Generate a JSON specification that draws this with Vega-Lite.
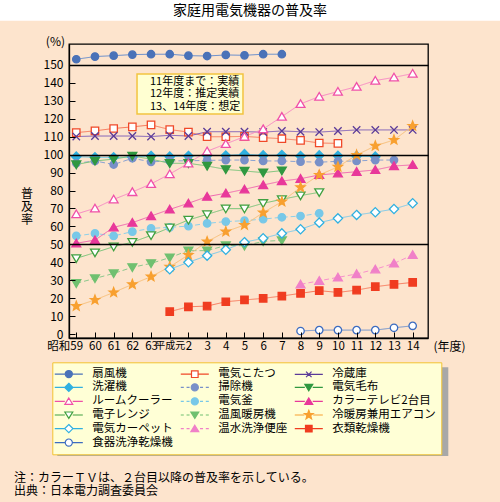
{
"$schema": "https://vega.github.io/schema/vega-lite/v6.json",
"width": 359, "height": 294,
"autosize": {"type": "none"},
"padding": {"left": 69, "top": 44, "right": 72, "bottom": 164},
"background": "#FDE4CD",
"view": {"stroke": "#000000", "strokeWidth": 1.3},
"config": {
  "font": "Noto Sans CJK JP",
  "view": {"stroke": "#000000", "strokeWidth": 1.3},
  "axis": {"labelFont": "Noto Sans CJK JP", "titleFont": "Noto Sans CJK JP", "labelColor": "#000000", "titleColor": "#000000", "domainColor": "#000000", "tickColor": "#000000", "titleFontWeight": "normal", "labelOverlap": false, "labelFlush": false},
  "legend": {"labelFont": "Noto Sans CJK JP", "fillColor": "#FFFFD6", "strokeColor": "#F2C232"},
  "text": {"font": "Noto Sans CJK JP"}
},
"datasets": {"d": [
{"item":"扇風機","year":1984,"rate":153.2},{"item":"扇風機","year":1985,"rate":154.7},{"item":"扇風機","year":1986,"rate":155.2},{"item":"扇風機","year":1987,"rate":155.8},{"item":"扇風機","year":1988,"rate":156.0},{"item":"扇風機","year":1989,"rate":156.0},{"item":"扇風機","year":1990,"rate":155.2},{"item":"扇風機","year":1991,"rate":155.0},{"item":"扇風機","year":1992,"rate":155.6},{"item":"扇風機","year":1993,"rate":155.4},{"item":"扇風機","year":1994,"rate":156.0},{"item":"扇風機","year":1995,"rate":156.0},
{"item":"電気こたつ","year":1984,"rate":112.3},{"item":"電気こたつ","year":1985,"rate":113.3},{"item":"電気こたつ","year":1986,"rate":114.6},{"item":"電気こたつ","year":1987,"rate":115.5},{"item":"電気こたつ","year":1988,"rate":116.6},{"item":"電気こたつ","year":1989,"rate":114.0},{"item":"電気こたつ","year":1990,"rate":112.6},{"item":"電気こたつ","year":1991,"rate":110.0},{"item":"電気こたつ","year":1992,"rate":110.0},{"item":"電気こたつ","year":1993,"rate":110.2},{"item":"電気こたつ","year":1994,"rate":109.5},{"item":"電気こたつ","year":1995,"rate":108.9},{"item":"電気こたつ","year":1996,"rate":108.0},{"item":"電気こたつ","year":1997,"rate":106.5},{"item":"電気こたつ","year":1998,"rate":106.3},
{"item":"冷蔵庫","year":1984,"rate":110.1},{"item":"冷蔵庫","year":1985,"rate":110.4},{"item":"冷蔵庫","year":1986,"rate":110.4},{"item":"冷蔵庫","year":1987,"rate":110.4},{"item":"冷蔵庫","year":1988,"rate":110.1},{"item":"冷蔵庫","year":1989,"rate":110.8},{"item":"冷蔵庫","year":1990,"rate":110.4},{"item":"冷蔵庫","year":1991,"rate":112.8},{"item":"冷蔵庫","year":1992,"rate":112.8},{"item":"冷蔵庫","year":1993,"rate":112.8},{"item":"冷蔵庫","year":1994,"rate":112.6},{"item":"冷蔵庫","year":1995,"rate":113.2},{"item":"冷蔵庫","year":1996,"rate":112.8},{"item":"冷蔵庫","year":1997,"rate":112.6},{"item":"冷蔵庫","year":1998,"rate":113.2},{"item":"冷蔵庫","year":1999,"rate":113.8},{"item":"冷蔵庫","year":2000,"rate":113.8},{"item":"冷蔵庫","year":2001,"rate":113.8},{"item":"冷蔵庫","year":2002,"rate":113.8},
{"item":"洗濯機","year":1984,"rate":98.9},{"item":"洗濯機","year":1985,"rate":98.5},{"item":"洗濯機","year":1986,"rate":98.5},{"item":"洗濯機","year":1987,"rate":98.6},{"item":"洗濯機","year":1988,"rate":99.3},{"item":"洗濯機","year":1989,"rate":98.9},{"item":"洗濯機","year":1990,"rate":99.3},{"item":"洗濯機","year":1991,"rate":99.6},{"item":"洗濯機","year":1992,"rate":99.5},{"item":"洗濯機","year":1993,"rate":100.3},{"item":"洗濯機","year":1994,"rate":99.6},{"item":"洗濯機","year":1995,"rate":99.8},{"item":"洗濯機","year":1996,"rate":99.2},{"item":"洗濯機","year":1997,"rate":99.6},{"item":"洗濯機","year":1998,"rate":99.4},{"item":"洗濯機","year":1999,"rate":99.2},{"item":"洗濯機","year":2000,"rate":98.9},
{"item":"掃除機","year":1984,"rate":95.2},{"item":"掃除機","year":1985,"rate":96.5},{"item":"掃除機","year":1986,"rate":94.5},{"item":"掃除機","year":1987,"rate":98.0},{"item":"掃除機","year":1988,"rate":96.0},{"item":"掃除機","year":1989,"rate":96.5},{"item":"掃除機","year":1990,"rate":96.6},{"item":"掃除機","year":1991,"rate":96.8},{"item":"掃除機","year":1992,"rate":97.0},{"item":"掃除機","year":1993,"rate":97.0},{"item":"掃除機","year":1994,"rate":96.5},{"item":"掃除機","year":1995,"rate":96.5},{"item":"掃除機","year":1996,"rate":96.1},{"item":"掃除機","year":1997,"rate":95.8},{"item":"掃除機","year":1998,"rate":96.3},{"item":"掃除機","year":1999,"rate":96.5},{"item":"掃除機","year":2000,"rate":97.0},{"item":"掃除機","year":2001,"rate":97.0},
{"item":"電気毛布","year":1984,"rate":94.5},{"item":"電気毛布","year":1985,"rate":96.5},{"item":"電気毛布","year":1986,"rate":97.5},{"item":"電気毛布","year":1987,"rate":99.3},{"item":"電気毛布","year":1988,"rate":97.5},{"item":"電気毛布","year":1989,"rate":95.2},{"item":"電気毛布","year":1990,"rate":95.2},{"item":"電気毛布","year":1991,"rate":93.7},{"item":"電気毛布","year":1992,"rate":91.8},{"item":"電気毛布","year":1993,"rate":90.9},{"item":"電気毛布","year":1994,"rate":90.0},{"item":"電気毛布","year":1995,"rate":91.1},
{"item":"ルームクーラー","year":1984,"rate":66.9},{"item":"ルームクーラー","year":1985,"rate":70.1},{"item":"ルームクーラー","year":1986,"rate":75.1},{"item":"ルームクーラー","year":1987,"rate":79.2},{"item":"ルームクーラー","year":1988,"rate":83.7},{"item":"ルームクーラー","year":1989,"rate":89.2},{"item":"ルームクーラー","year":1990,"rate":95.2},{"item":"ルームクーラー","year":1991,"rate":101.9},{"item":"ルームクーラー","year":1992,"rate":106.0},{"item":"ルームクーラー","year":1993,"rate":110.1},{"item":"ルームクーラー","year":1994,"rate":114.3},{"item":"ルームクーラー","year":1995,"rate":121.2},{"item":"ルームクーラー","year":1996,"rate":128.3},{"item":"ルームクーラー","year":1997,"rate":132.4},{"item":"ルームクーラー","year":1998,"rate":135.2},{"item":"ルームクーラー","year":1999,"rate":137.9},{"item":"ルームクーラー","year":2000,"rate":141.3},{"item":"ルームクーラー","year":2001,"rate":143.1},{"item":"ルームクーラー","year":2002,"rate":145.2},
{"item":"電気釜","year":1984,"rate":54.7},{"item":"電気釜","year":1985,"rate":56.1},{"item":"電気釜","year":1986,"rate":54.7},{"item":"電気釜","year":1987,"rate":57.1},{"item":"電気釜","year":1988,"rate":58.9},{"item":"電気釜","year":1989,"rate":59.5},{"item":"電気釜","year":1990,"rate":60.2},{"item":"電気釜","year":1991,"rate":61.7},{"item":"電気釜","year":1992,"rate":62.7},{"item":"電気釜","year":1993,"rate":63.2},{"item":"電気釜","year":1994,"rate":64.1},{"item":"電気釜","year":1995,"rate":65.1},{"item":"電気釜","year":1996,"rate":65.8},{"item":"電気釜","year":1997,"rate":67.3},
{"item":"カラーテレビ2台目","year":1984,"rate":50.6},{"item":"カラーテレビ2台目","year":1985,"rate":52.4},{"item":"カラーテレビ2台目","year":1986,"rate":59.5},{"item":"カラーテレビ2台目","year":1987,"rate":62.1},{"item":"カラーテレビ2台目","year":1988,"rate":65.8},{"item":"カラーテレビ2台目","year":1989,"rate":69.5},{"item":"カラーテレビ2台目","year":1990,"rate":72.9},{"item":"カラーテレビ2台目","year":1991,"rate":76.6},{"item":"カラーテレビ2台目","year":1992,"rate":78.5},{"item":"カラーテレビ2台目","year":1993,"rate":80.7},{"item":"カラーテレビ2台目","year":1994,"rate":83.1},{"item":"カラーテレビ2台目","year":1995,"rate":85.3},{"item":"カラーテレビ2台目","year":1996,"rate":86.6},{"item":"カラーテレビ2台目","year":1997,"rate":88.7},{"item":"カラーテレビ2台目","year":1998,"rate":89.6},{"item":"カラーテレビ2台目","year":1999,"rate":90.5},{"item":"カラーテレビ2台目","year":2000,"rate":91.5},{"item":"カラーテレビ2台目","year":2001,"rate":93.7},{"item":"カラーテレビ2台目","year":2002,"rate":94.3},
{"item":"電子レンジ","year":1984,"rate":42.2},{"item":"電子レンジ","year":1985,"rate":45.4},{"item":"電子レンジ","year":1986,"rate":48.7},{"item":"電子レンジ","year":1987,"rate":51.2},{"item":"電子レンジ","year":1988,"rate":55.0},{"item":"電子レンジ","year":1989,"rate":59.3},{"item":"電子レンジ","year":1990,"rate":63.6},{"item":"電子レンジ","year":1991,"rate":66.7},{"item":"電子レンジ","year":1992,"rate":69.9},{"item":"電子レンジ","year":1993,"rate":69.9},{"item":"電子レンジ","year":1994,"rate":72.9},{"item":"電子レンジ","year":1995,"rate":75.1},{"item":"電子レンジ","year":1996,"rate":77.2},{"item":"電子レンジ","year":1997,"rate":79.0},
{"item":"温風暖房機","year":1984,"rate":28.3},{"item":"温風暖房機","year":1985,"rate":31.0},{"item":"温風暖房機","year":1986,"rate":33.8},{"item":"温風暖房機","year":1987,"rate":37.2},{"item":"温風暖房機","year":1988,"rate":39.4},{"item":"温風暖房機","year":1989,"rate":42.6},{"item":"温風暖房機","year":1990,"rate":46.5},{"item":"温風暖房機","year":1991,"rate":46.5},{"item":"温風暖房機","year":1992,"rate":49.4},{"item":"温風暖房機","year":1993,"rate":49.2},{"item":"温風暖房機","year":1994,"rate":51.7},{"item":"温風暖房機","year":1995,"rate":52.2},
{"item":"冷暖房兼用エアコン","year":1984,"rate":15.6},{"item":"冷暖房兼用エアコン","year":1985,"rate":19.0},{"item":"冷暖房兼用エアコン","year":1986,"rate":23.2},{"item":"冷暖房兼用エアコン","year":1987,"rate":27.7},{"item":"冷暖房兼用エアコン","year":1988,"rate":32.0},{"item":"冷暖房兼用エアコン","year":1989,"rate":37.5},{"item":"冷暖房兼用エアコン","year":1990,"rate":44.1},{"item":"冷暖房兼用エアコン","year":1991,"rate":51.5},{"item":"冷暖房兼用エアコン","year":1992,"rate":57.1},{"item":"冷暖房兼用エアコン","year":1993,"rate":60.8},{"item":"冷暖房兼用エアコン","year":1994,"rate":67.7},{"item":"冷暖房兼用エアコン","year":1995,"rate":73.8},{"item":"冷暖房兼用エアコン","year":1996,"rate":81.8},{"item":"冷暖房兼用エアコン","year":1997,"rate":88.7},{"item":"冷暖房兼用エアコン","year":1998,"rate":93.2},{"item":"冷暖房兼用エアコン","year":1999,"rate":99.8},{"item":"冷暖房兼用エアコン","year":2000,"rate":104.9},{"item":"冷暖房兼用エアコン","year":2001,"rate":108.2},{"item":"冷暖房兼用エアコン","year":2002,"rate":116.0},
{"item":"電気カーペット","year":1989,"rate":36.1},{"item":"電気カーペット","year":1990,"rate":40.0},{"item":"電気カーペット","year":1991,"rate":43.7},{"item":"電気カーペット","year":1992,"rate":47.0},{"item":"電気カーペット","year":1993,"rate":51.2},{"item":"電気カーペット","year":1994,"rate":53.4},{"item":"電気カーペット","year":1995,"rate":56.1},{"item":"電気カーペット","year":1996,"rate":58.4},{"item":"電気カーペット","year":1997,"rate":62.1},{"item":"電気カーペット","year":1998,"rate":64.5},{"item":"電気カーペット","year":1999,"rate":66.4},{"item":"電気カーペット","year":2000,"rate":67.9},{"item":"電気カーペット","year":2001,"rate":69.7},{"item":"電気カーペット","year":2002,"rate":72.9},
{"item":"温水洗浄便座","year":1996,"rate":27.7},{"item":"温水洗浄便座","year":1997,"rate":29.7},{"item":"温水洗浄便座","year":1998,"rate":31.6},{"item":"温水洗浄便座","year":1999,"rate":33.5},{"item":"温水洗浄便座","year":2000,"rate":36.1},{"item":"温水洗浄便座","year":2001,"rate":39.4},{"item":"温水洗浄便座","year":2002,"rate":44.1},
{"item":"衣類乾燥機","year":1989,"rate":12.5},{"item":"衣類乾燥機","year":1990,"rate":15.2},{"item":"衣類乾燥機","year":1991,"rate":15.6},{"item":"衣類乾燥機","year":1992,"rate":18.0},{"item":"衣類乾燥機","year":1993,"rate":19.0},{"item":"衣類乾燥機","year":1994,"rate":19.9},{"item":"衣類乾燥機","year":1995,"rate":21.2},{"item":"衣類乾燥機","year":1996,"rate":22.7},{"item":"衣類乾燥機","year":1997,"rate":24.2},{"item":"衣類乾燥機","year":1998,"rate":23.2},{"item":"衣類乾燥機","year":1999,"rate":24.5},{"item":"衣類乾燥機","year":2000,"rate":26.4},{"item":"衣類乾燥機","year":2001,"rate":27.7},{"item":"衣類乾燥機","year":2002,"rate":28.8},
{"item":"食器洗浄乾燥機","year":1996,"rate":1.7},{"item":"食器洗浄乾燥機","year":1997,"rate":2.2},{"item":"食器洗浄乾燥機","year":1998,"rate":2.2},{"item":"食器洗浄乾燥機","year":1999,"rate":2.2},{"item":"食器洗浄乾燥機","year":2000,"rate":2.2},{"item":"食器洗浄乾燥機","year":2001,"rate":3.5},{"item":"食器洗浄乾燥機","year":2002,"rate":4.6}
]},
"data": {"name": "d"},
"layer": [
{"mark": {"type": "line", "strokeWidth": 1},
 "encoding": {
  "x": {"field": "year", "type": "quantitative", "scale": {"domain": [1983.61, 2002.82], "nice": false, "zero": false},
    "axis": {"values": [1984,1985,1986,1987,1988,1989,1990,1991,1992,1993,1994,1995,1996,1997,1998,1999,2000,2001,2002], "labelExpr": "datum.value == 1984 ? '昭和59' : datum.value < 1989 ? '' + (datum.value - 1925) : datum.value == 1989 ? '平成元' : '' + (datum.value - 1988)", "labelAlign": {"condition": {"test": "datum.value == 1984", "value": "right"}, "value": "center"}, "labelOffset": {"condition": {"test": "datum.value == 1984", "value": 6.3}, "value": 0}, "labelFontSize": {"condition": {"test": "datum.value == 1989", "value": 10}, "value": 11.5}, "title": "(年度)", "titleX": 364, "titleY": 8, "titleAlign": "left", "titleBaseline": "middle", "titleFontSize": 12, "tickSize": -6, "tickWidth": 1, "labelPadding": 8, "labelFlush": false, "labelOverlap": false, "grid": false, "domainWidth": 1.3, "zindex": 1}},
  "y": {"field": "rate", "type": "quantitative", "scale": {"domain": [-2.2, 161.7], "nice": false, "zero": false},
    "axis": {"values": [0,10,20,30,40,50,60,70,80,90,100,110,120,130,140,150], "title": ["普","及","率"], "titleAngle": 0, "titleX": -42.5, "titleY": 149, "titleAlign": "center", "titleBaseline": "middle", "titleFontSize": 12, "titleLineHeight": 13, "tickSize": -6, "tickWidth": 1, "labelPadding": 12, "labelFontSize": 12, "labelFlush": false, "labelOverlap": false, "grid": true, "gridColor": "#000000", "gridWidth": 1.3, "gridOpacity": {"condition": {"test": "datum.value == 50 || datum.value == 100 || datum.value == 150", "value": 1}, "value": 0}, "domainWidth": 1.3, "zindex": 1}},
  "stroke": {"field": "item", "type": "nominal", "legend": null,
    "scale": {"domain": ["扇風機","電気こたつ","冷蔵庫","洗濯機","掃除機","電気毛布","ルームクーラー","電気釜","カラーテレビ2台目","電子レンジ","温風暖房機","冷暖房兼用エアコン","電気カーペット","温水洗浄便座","衣類乾燥機","食器洗浄乾燥機"],
      "range": ["#6A8FCC","#F8785A","#7A5AB8","#6CCCEC","#8AA2D2","#78C478","#F888C4","#8CD0EA","#F068B0","#78C478","#8CC88C","#F8C07A","#7CCAEA","#F890CC","#F8785A","#6A8FCC"]}},
  "strokeDash": {"field": "item", "type": "nominal", "legend": null,
    "scale": {"domain": ["扇風機","電気こたつ","冷蔵庫","洗濯機","掃除機","電気毛布","ルームクーラー","電気釜","カラーテレビ2台目","電子レンジ","温風暖房機","冷暖房兼用エアコン","電気カーペット","温水洗浄便座","衣類乾燥機","食器洗浄乾燥機"],
      "range": [[1,0],[1,0],[1,0],[1,0],[5,3],[1,0],[1,0],[5,3],[1,0],[1,0],[5,3],[1,0],[1,0],[5,3],[1,0],[1,0]]}}
 }},
{"mark": {"type": "point", "size": 55, "strokeWidth": 1.3, "opacity": 1, "filled": true},
 "encoding": {
  "x": {"field": "year", "type": "quantitative",
    "axis": {"values": [1984,1985,1986,1987,1988,1989,1990,1991,1992,1993,1994,1995,1996,1997,1998,1999,2000,2001,2002], "labelExpr": "datum.value == 1984 ? '昭和59' : datum.value < 1989 ? '' + (datum.value - 1925) : datum.value == 1989 ? '平成元' : '' + (datum.value - 1988)", "labelAlign": {"condition": {"test": "datum.value == 1984", "value": "right"}, "value": "center"}, "labelOffset": {"condition": {"test": "datum.value == 1984", "value": 6.3}, "value": 0}, "labelFontSize": {"condition": {"test": "datum.value == 1989", "value": 10}, "value": 11.5}, "title": "(年度)", "titleX": 364, "titleY": 8, "titleAlign": "left", "titleBaseline": "middle", "titleFontSize": 12, "tickSize": -6, "tickWidth": 1, "labelPadding": 8, "labelFlush": false, "labelOverlap": false, "grid": false, "domainWidth": 1.3, "zindex": 1}},
  "y": {"field": "rate", "type": "quantitative",
    "axis": {"values": [0,10,20,30,40,50,60,70,80,90,100,110,120,130,140,150], "title": ["普","及","率"], "titleAngle": 0, "titleX": -42.5, "titleY": 149, "titleAlign": "center", "titleBaseline": "middle", "titleFontSize": 12, "titleLineHeight": 13, "tickSize": -6, "tickWidth": 1, "labelPadding": 12, "labelFontSize": 12, "labelFlush": false, "labelOverlap": false, "grid": true, "gridColor": "#000000", "gridWidth": 1.3, "gridOpacity": {"condition": {"test": "datum.value == 50 || datum.value == 100 || datum.value == 150", "value": 1}, "value": 0}, "domainWidth": 1.3, "zindex": 1}},
  "shape": {"field": "item", "type": "nominal", "legend": null,
    "scale": {"domain": ["扇風機","電気こたつ","冷蔵庫","洗濯機","掃除機","電気毛布","ルームクーラー","電気釜","カラーテレビ2台目","電子レンジ","温風暖房機","冷暖房兼用エアコン","電気カーペット","温水洗浄便座","衣類乾燥機","食器洗浄乾燥機"],
      "range": ["circle","square","M-1,-1L1,1M-1,1L1,-1","M0,-1.25L1.25,0L0,1.25L-1.25,0Z","circle","M0,1.1L1.2,-0.95L-1.2,-0.95Z","M0,-1.1L1.2,0.95L-1.2,0.95Z","circle","M0,-1.1L1.2,0.95L-1.2,0.95Z","M0,1.1L1.2,-0.95L-1.2,-0.95Z","M0,1.1L1.2,-0.95L-1.2,-0.95Z","M0,-1.3L0.323,-0.445L1.236,-0.402L0.523,0.17L0.764,1.052L0,0.55L-0.764,1.052L-0.523,0.17L-1.236,-0.402L-0.323,-0.445Z","M0,-1.25L1.25,0L0,1.25L-1.25,0Z","M0,-1.1L1.2,0.95L-1.2,0.95Z","square","circle"]}},
  "fill": {"field": "item", "type": "nominal", "legend": null,
    "scale": {"domain": ["扇風機","電気こたつ","冷蔵庫","洗濯機","掃除機","電気毛布","ルームクーラー","電気釜","カラーテレビ2台目","電子レンジ","温風暖房機","冷暖房兼用エアコン","電気カーペット","温水洗浄便座","衣類乾燥機","食器洗浄乾燥機"],
      "range": ["#4A72B8","#ffffff","transparent","#30B0E0","#7890C8","#309840","#ffffff","#78C8E8","#E8389A","#ffffff","#70C070","#F8A030","#ffffff","#F080C8","#F03C20","#ffffff"]}},
  "stroke": {"field": "item", "type": "nominal", "legend": null,
    "scale": {"domain": ["扇風機","電気こたつ","冷蔵庫","洗濯機","掃除機","電気毛布","ルームクーラー","電気釜","カラーテレビ2台目","電子レンジ","温風暖房機","冷暖房兼用エアコン","電気カーペット","温水洗浄便座","衣類乾燥機","食器洗浄乾燥機"],
      "range": ["#4A72B8","#F04828","#5A3A98","#30B0E0","#7890C8","#309840","#F050A8","#78C8E8","#E8389A","#40A040","#70C070","#F8A030","#30B0E0","#F080C8","#F03C20","#3C6CC0"]}}
 }},
{"data": {"values": [{}]}, "mark": {"type": "rect", "fill": "#ffffff"},
 "encoding": {
  "x": {"datum": 1970, "type": "quantitative", "axis": {"values": [1984,1985,1986,1987,1988,1989,1990,1991,1992,1993,1994,1995,1996,1997,1998,1999,2000,2001,2002], "labelExpr": "datum.value == 1984 ? '昭和59' : datum.value < 1989 ? '' + (datum.value - 1925) : datum.value == 1989 ? '平成元' : '' + (datum.value - 1988)", "labelAlign": {"condition": {"test": "datum.value == 1984", "value": "right"}, "value": "center"}, "labelOffset": {"condition": {"test": "datum.value == 1984", "value": 6.3}, "value": 0}, "labelFontSize": {"condition": {"test": "datum.value == 1989", "value": 10}, "value": 11.5}, "title": "(年度)", "titleX": 364, "titleY": 8, "titleAlign": "left", "titleBaseline": "middle", "titleFontSize": 12, "tickSize": -6, "tickWidth": 1, "labelPadding": 8, "labelFlush": false, "labelOverlap": false, "grid": false, "domainWidth": 1.3, "zindex": 1}},
  "x2": {"datum": 2020},
  "y": {"datum": 174.7, "type": "quantitative", "axis": {"values": [0,10,20,30,40,50,60,70,80,90,100,110,120,130,140,150], "title": ["普","及","率"], "titleAngle": 0, "titleX": -42.5, "titleY": 149, "titleAlign": "center", "titleBaseline": "middle", "titleFontSize": 12, "titleLineHeight": 13, "tickSize": -6, "tickWidth": 1, "labelPadding": 12, "labelFontSize": 12, "labelFlush": false, "labelOverlap": false, "grid": true, "gridColor": "#000000", "gridWidth": 1.3, "gridOpacity": {"condition": {"test": "datum.value == 50 || datum.value == 100 || datum.value == 150", "value": 1}, "value": 0}, "domainWidth": 1.3, "zindex": 1}},
  "y2": {"datum": 260}}},
{"data": {"values": [{}]}, "mark": {"type": "rect", "fill": "#A8A8A8"},
 "encoding": {
  "x": {"datum": 1982.984, "type": "quantitative", "axis": {"values": [1984,1985,1986,1987,1988,1989,1990,1991,1992,1993,1994,1995,1996,1997,1998,1999,2000,2001,2002], "labelExpr": "datum.value == 1984 ? '昭和59' : datum.value < 1989 ? '' + (datum.value - 1925) : datum.value == 1989 ? '平成元' : '' + (datum.value - 1988)", "labelAlign": {"condition": {"test": "datum.value == 1984", "value": "right"}, "value": "center"}, "labelOffset": {"condition": {"test": "datum.value == 1984", "value": 6.3}, "value": 0}, "labelFontSize": {"condition": {"test": "datum.value == 1989", "value": 10}, "value": 11.5}, "title": "(年度)", "titleX": 364, "titleY": 8, "titleAlign": "left", "titleBaseline": "middle", "titleFontSize": 12, "tickSize": -6, "tickWidth": 1, "labelPadding": 8, "labelFlush": false, "labelOverlap": false, "grid": false, "domainWidth": 1.3, "zindex": 1}},
  "x2": {"datum": 2003.906},
  "y": {"datum": -18.54, "type": "quantitative", "axis": {"values": [0,10,20,30,40,50,60,70,80,90,100,110,120,130,140,150], "title": ["普","及","率"], "titleAngle": 0, "titleX": -42.5, "titleY": 149, "titleAlign": "center", "titleBaseline": "middle", "titleFontSize": 12, "titleLineHeight": 13, "tickSize": -6, "tickWidth": 1, "labelPadding": 12, "labelFontSize": 12, "labelFlush": false, "labelOverlap": false, "grid": true, "gridColor": "#000000", "gridWidth": 1.3, "gridOpacity": {"condition": {"test": "datum.value == 50 || datum.value == 100 || datum.value == 150", "value": 1}, "value": 0}, "domainWidth": 1.3, "zindex": 1}},
  "y2": {"datum": -67.99}}},
{"data": {"values": [{}]}, "mark": {"type": "rect", "fill": "#FFFFD2", "stroke": "#F2C440", "strokeWidth": 1.5},
 "encoding": {
  "x": {"datum": 1987.25, "type": "quantitative", "axis": {"values": [1984,1985,1986,1987,1988,1989,1990,1991,1992,1993,1994,1995,1996,1997,1998,1999,2000,2001,2002], "labelExpr": "datum.value == 1984 ? '昭和59' : datum.value < 1989 ? '' + (datum.value - 1925) : datum.value == 1989 ? '平成元' : '' + (datum.value - 1988)", "labelAlign": {"condition": {"test": "datum.value == 1984", "value": "right"}, "value": "center"}, "labelOffset": {"condition": {"test": "datum.value == 1984", "value": 6.3}, "value": 0}, "labelFontSize": {"condition": {"test": "datum.value == 1989", "value": 10}, "value": 11.5}, "title": "(年度)", "titleX": 364, "titleY": 8, "titleAlign": "left", "titleBaseline": "middle", "titleFontSize": 12, "tickSize": -6, "tickWidth": 1, "labelPadding": 8, "labelFlush": false, "labelOverlap": false, "grid": false, "domainWidth": 1.3, "zindex": 1}},
  "x2": {"datum": 1992.92},
  "y": {"datum": 144.98, "type": "quantitative", "axis": {"values": [0,10,20,30,40,50,60,70,80,90,100,110,120,130,140,150], "title": ["普","及","率"], "titleAngle": 0, "titleX": -42.5, "titleY": 149, "titleAlign": "center", "titleBaseline": "middle", "titleFontSize": 12, "titleLineHeight": 13, "tickSize": -6, "tickWidth": 1, "labelPadding": 12, "labelFontSize": 12, "labelFlush": false, "labelOverlap": false, "grid": true, "gridColor": "#000000", "gridWidth": 1.3, "gridOpacity": {"condition": {"test": "datum.value == 50 || datum.value == 100 || datum.value == 150", "value": 1}, "value": 0}, "domainWidth": 1.3, "zindex": 1}},
  "y2": {"datum": 122.68}}},
{"data": {"values": [{}]}, "mark": {"type": "text", "text": ["11年度まで：実績", "12年度：推定実績", "13、14年度：想定"], "fontSize": 11, "lineHeight": 12.5, "align": "left", "baseline": "middle", "color": "#000000"},
 "encoding": {
  "x": {"datum": 1987.94, "type": "quantitative", "axis": {"values": [1984,1985,1986,1987,1988,1989,1990,1991,1992,1993,1994,1995,1996,1997,1998,1999,2000,2001,2002], "labelExpr": "datum.value == 1984 ? '昭和59' : datum.value < 1989 ? '' + (datum.value - 1925) : datum.value == 1989 ? '平成元' : '' + (datum.value - 1988)", "labelAlign": {"condition": {"test": "datum.value == 1984", "value": "right"}, "value": "center"}, "labelOffset": {"condition": {"test": "datum.value == 1984", "value": 6.3}, "value": 0}, "labelFontSize": {"condition": {"test": "datum.value == 1989", "value": 10}, "value": 11.5}, "title": "(年度)", "titleX": 364, "titleY": 8, "titleAlign": "left", "titleBaseline": "middle", "titleFontSize": 12, "tickSize": -6, "tickWidth": 1, "labelPadding": 8, "labelFlush": false, "labelOverlap": false, "grid": false, "domainWidth": 1.3, "zindex": 1}},
  "y": {"datum": 140.68, "type": "quantitative", "axis": {"values": [0,10,20,30,40,50,60,70,80,90,100,110,120,130,140,150], "title": ["普","及","率"], "titleAngle": 0, "titleX": -42.5, "titleY": 149, "titleAlign": "center", "titleBaseline": "middle", "titleFontSize": 12, "titleLineHeight": 13, "tickSize": -6, "tickWidth": 1, "labelPadding": 12, "labelFontSize": 12, "labelFlush": false, "labelOverlap": false, "grid": true, "gridColor": "#000000", "gridWidth": 1.3, "gridOpacity": {"condition": {"test": "datum.value == 50 || datum.value == 100 || datum.value == 150", "value": 1}, "value": 0}, "domainWidth": 1.3, "zindex": 1}}}},
{"data": {"values": [{}]}, "mark": {"type": "text", "text": "家庭用電気機器の普及率", "fontSize": 14, "align": "center", "baseline": "middle", "color": "#000000"},
 "encoding": {
  "x": {"datum": 1993.29, "type": "quantitative", "axis": {"values": [1984,1985,1986,1987,1988,1989,1990,1991,1992,1993,1994,1995,1996,1997,1998,1999,2000,2001,2002], "labelExpr": "datum.value == 1984 ? '昭和59' : datum.value < 1989 ? '' + (datum.value - 1925) : datum.value == 1989 ? '平成元' : '' + (datum.value - 1988)", "labelAlign": {"condition": {"test": "datum.value == 1984", "value": "right"}, "value": "center"}, "labelOffset": {"condition": {"test": "datum.value == 1984", "value": 6.3}, "value": 0}, "labelFontSize": {"condition": {"test": "datum.value == 1989", "value": 10}, "value": 11.5}, "title": "(年度)", "titleX": 364, "titleY": 8, "titleAlign": "left", "titleBaseline": "middle", "titleFontSize": 12, "tickSize": -6, "tickWidth": 1, "labelPadding": 8, "labelFlush": false, "labelOverlap": false, "grid": false, "domainWidth": 1.3, "zindex": 1}},
  "y": {"datum": 180.1, "type": "quantitative", "axis": {"values": [0,10,20,30,40,50,60,70,80,90,100,110,120,130,140,150], "title": ["普","及","率"], "titleAngle": 0, "titleX": -42.5, "titleY": 149, "titleAlign": "center", "titleBaseline": "middle", "titleFontSize": 12, "titleLineHeight": 13, "tickSize": -6, "tickWidth": 1, "labelPadding": 12, "labelFontSize": 12, "labelFlush": false, "labelOverlap": false, "grid": true, "gridColor": "#000000", "gridWidth": 1.3, "gridOpacity": {"condition": {"test": "datum.value == 50 || datum.value == 100 || datum.value == 150", "value": 1}, "value": 0}, "domainWidth": 1.3, "zindex": 1}}}},
{"data": {"values": [{}]}, "mark": {"type": "text", "text": "(%)", "fontSize": 12, "align": "right", "baseline": "middle", "dx": -4, "color": "#000000"},
 "encoding": {
  "x": {"datum": 1983.61, "type": "quantitative", "axis": {"values": [1984,1985,1986,1987,1988,1989,1990,1991,1992,1993,1994,1995,1996,1997,1998,1999,2000,2001,2002], "labelExpr": "datum.value == 1984 ? '昭和59' : datum.value < 1989 ? '' + (datum.value - 1925) : datum.value == 1989 ? '平成元' : '' + (datum.value - 1988)", "labelAlign": {"condition": {"test": "datum.value == 1984", "value": "right"}, "value": "center"}, "labelOffset": {"condition": {"test": "datum.value == 1984", "value": 6.3}, "value": 0}, "labelFontSize": {"condition": {"test": "datum.value == 1989", "value": 10}, "value": 11.5}, "title": "(年度)", "titleX": 364, "titleY": 8, "titleAlign": "left", "titleBaseline": "middle", "titleFontSize": 12, "tickSize": -6, "tickWidth": 1, "labelPadding": 8, "labelFlush": false, "labelOverlap": false, "grid": false, "domainWidth": 1.3, "zindex": 1}},
  "y": {"datum": 162.8, "type": "quantitative", "axis": {"values": [0,10,20,30,40,50,60,70,80,90,100,110,120,130,140,150], "title": ["普","及","率"], "titleAngle": 0, "titleX": -42.5, "titleY": 149, "titleAlign": "center", "titleBaseline": "middle", "titleFontSize": 12, "titleLineHeight": 13, "tickSize": -6, "tickWidth": 1, "labelPadding": 12, "labelFontSize": 12, "labelFlush": false, "labelOverlap": false, "grid": true, "gridColor": "#000000", "gridWidth": 1.3, "gridOpacity": {"condition": {"test": "datum.value == 50 || datum.value == 100 || datum.value == 150", "value": 1}, "value": 0}, "domainWidth": 1.3, "zindex": 1}}}},
{"data": {"values": [{}]}, "mark": {"type": "text", "text": ["注：カラーＴＶは、２台目以降の普及率を示している。", "出典：日本電力調査委員会"], "fontSize": 12, "lineHeight": 13.5, "align": "left", "baseline": "middle", "color": "#000000"},
 "encoding": {
  "x": {"datum": 1980.67, "type": "quantitative", "axis": {"values": [1984,1985,1986,1987,1988,1989,1990,1991,1992,1993,1994,1995,1996,1997,1998,1999,2000,2001,2002], "labelExpr": "datum.value == 1984 ? '昭和59' : datum.value < 1989 ? '' + (datum.value - 1925) : datum.value == 1989 ? '平成元' : '' + (datum.value - 1988)", "labelAlign": {"condition": {"test": "datum.value == 1984", "value": "right"}, "value": "center"}, "labelOffset": {"condition": {"test": "datum.value == 1984", "value": 6.3}, "value": 0}, "labelFontSize": {"condition": {"test": "datum.value == 1989", "value": 10}, "value": 11.5}, "title": "(年度)", "titleX": 364, "titleY": 8, "titleAlign": "left", "titleBaseline": "middle", "titleFontSize": 12, "tickSize": -6, "tickWidth": 1, "labelPadding": 8, "labelFlush": false, "labelOverlap": false, "grid": false, "domainWidth": 1.3, "zindex": 1}},
  "y": {"datum": -79.97, "type": "quantitative", "axis": {"values": [0,10,20,30,40,50,60,70,80,90,100,110,120,130,140,150], "title": ["普","及","率"], "titleAngle": 0, "titleX": -42.5, "titleY": 149, "titleAlign": "center", "titleBaseline": "middle", "titleFontSize": 12, "titleLineHeight": 13, "tickSize": -6, "tickWidth": 1, "labelPadding": 12, "labelFontSize": 12, "labelFlush": false, "labelOverlap": false, "grid": true, "gridColor": "#000000", "gridWidth": 1.3, "gridOpacity": {"condition": {"test": "datum.value == 50 || datum.value == 100 || datum.value == 150", "value": 1}, "value": 0}, "domainWidth": 1.3, "zindex": 1}}}},
{"transform": [{"filter": "false"}],
 "mark": {"type": "point", "filled": true, "opacity": 1, "size": 121},
 "encoding": {
  "x": {"field": "year", "type": "quantitative", "axis": {"values": [1984,1985,1986,1987,1988,1989,1990,1991,1992,1993,1994,1995,1996,1997,1998,1999,2000,2001,2002], "labelExpr": "datum.value == 1984 ? '昭和59' : datum.value < 1989 ? '' + (datum.value - 1925) : datum.value == 1989 ? '平成元' : '' + (datum.value - 1988)", "labelAlign": {"condition": {"test": "datum.value == 1984", "value": "right"}, "value": "center"}, "labelOffset": {"condition": {"test": "datum.value == 1984", "value": 6.3}, "value": 0}, "labelFontSize": {"condition": {"test": "datum.value == 1989", "value": 10}, "value": 11.5}, "title": "(年度)", "titleX": 364, "titleY": 8, "titleAlign": "left", "titleBaseline": "middle", "titleFontSize": 12, "tickSize": -6, "tickWidth": 1, "labelPadding": 8, "labelFlush": false, "labelOverlap": false, "grid": false, "domainWidth": 1.3, "zindex": 1}},
  "y": {"field": "rate", "type": "quantitative", "axis": {"values": [0,10,20,30,40,50,60,70,80,90,100,110,120,130,140,150], "title": ["普","及","率"], "titleAngle": 0, "titleX": -42.5, "titleY": 149, "titleAlign": "center", "titleBaseline": "middle", "titleFontSize": 12, "titleLineHeight": 13, "tickSize": -6, "tickWidth": 1, "labelPadding": 12, "labelFontSize": 12, "labelFlush": false, "labelOverlap": false, "grid": true, "gridColor": "#000000", "gridWidth": 1.3, "gridOpacity": {"condition": {"test": "datum.value == 50 || datum.value == 100 || datum.value == 150", "value": 1}, "value": 0}, "domainWidth": 1.3, "zindex": 1}},
  "shape": {"field": "item", "type": "nominal",
    "scale": {"domain": ["扇風機","洗濯機","ルームクーラー","電子レンジ","電気カーペット","食器洗浄乾燥機","電気こたつ","掃除機","電気釜","温風暖房機","温水洗浄便座"," ","冷蔵庫","電気毛布","カラーテレビ2台目","冷暖房兼用エアコン","衣類乾燥機","  "],
      "range": [
"M-2.55,0H-0.65M0.65,0H2.55M-0.65,0A0.65,0.65 0 1,0 0.65,0A0.65,0.65 0 1,0 -0.65,0Z",
"M-2.55,0H-0.75M0.75,0H2.55M0,-0.75L0.75,0L0,0.75L-0.75,0Z",
"M-2.55,0H-0.72M0.72,0H2.55M0,-0.62L0.72,0.55L-0.72,0.55Z",
"M-2.55,0H-0.72M0.72,0H2.55M0,0.62L0.72,-0.55L-0.72,-0.55Z",
"M-2.55,0H-0.75M0.75,0H2.55M0,-0.75L0.75,0L0,0.75L-0.75,0Z",
"M-2.55,0H-0.65M0.65,0H2.55M-0.65,0A0.65,0.65 0 1,0 0.65,0A0.65,0.65 0 1,0 -0.65,0Z",
"M-2.55,0H-0.6M0.6,0H2.55M-0.6,-0.6H0.6V0.6H-0.6Z",
"M-2.55,0H-2M-1.5,0H-0.95M0.95,0H1.5M2,0H2.55M-0.65,0A0.65,0.65 0 1,0 0.65,0A0.65,0.65 0 1,0 -0.65,0Z",
"M-2.55,0H-2M-1.5,0H-0.95M0.95,0H1.5M2,0H2.55M-0.65,0A0.65,0.65 0 1,0 0.65,0A0.65,0.65 0 1,0 -0.65,0Z",
"M-2.55,0H-2M-1.5,0H-0.95M0.95,0H1.5M2,0H2.55M0,0.62L0.72,-0.55L-0.72,-0.55Z",
"M-2.55,0H-2M-1.5,0H-0.95M0.95,0H1.5M2,0H2.55M0,-0.62L0.72,0.55L-0.72,0.55Z",
"M0,0",
"M-2.55,0H2.55M-0.5,-0.5L0.5,0.5M-0.5,0.5L0.5,-0.5",
"M-2.55,0H-0.72M0.72,0H2.55M0,0.62L0.72,-0.55L-0.72,-0.55Z",
"M-2.55,0H-0.72M0.72,0H2.55M0,-0.62L0.72,0.55L-0.72,0.55Z",
"M-2.55,0H-0.8M0.8,0H2.55M0,-0.85L0.212,-0.291L0.808,-0.263L0.342,0.111L0.5,0.688L0,0.36L-0.5,0.688L-0.342,0.111L-0.808,-0.263L-0.212,-0.291Z",
"M-2.55,0H-0.6M0.6,0H2.55M-0.6,-0.6H0.6V0.6H-0.6Z",
"M0,0"]},
    "legend": {"title": null, "orient": "none", "legendX": -16.7, "legendY": 318.3, "columns": 3, "gridAlign": "each", "columnPadding": 5, "rowPadding": -0.4, "padding": 5, "fillColor": "#FFFFD6", "strokeColor": "#F2C232", "cornerRadius": 0, "symbolSize": 121, "symbolStrokeWidth": 1.2, "symbolOffset": 5, "labelOffset": 17, "labelFontSize": 11.5, "labelColor": "#000000", "labelLimit": 300}},
  "fill": {"field": "item", "type": "nominal",
    "scale": {"domain": ["扇風機","洗濯機","ルームクーラー","電子レンジ","電気カーペット","食器洗浄乾燥機","電気こたつ","掃除機","電気釜","温風暖房機","温水洗浄便座"," ","冷蔵庫","電気毛布","カラーテレビ2台目","冷暖房兼用エアコン","衣類乾燥機","  "],
      "range": ["#4A72B8","#30B0E0","#ffffff","#ffffff","#ffffff","#ffffff","#ffffff","#7890C8","#78C8E8","#70C070","#F080C8","transparent","transparent","#309840","#E8389A","#F8A030","#F03C20","transparent"]},
    "legend": {"title": null, "orient": "none", "legendX": -16.7, "legendY": 318.3, "columns": 3, "gridAlign": "each", "columnPadding": 5, "rowPadding": -0.4, "padding": 5, "fillColor": "#FFFFD6", "strokeColor": "#F2C232", "cornerRadius": 0, "symbolSize": 121, "symbolStrokeWidth": 1.2, "symbolOffset": 5, "labelOffset": 17, "labelFontSize": 11.5, "labelColor": "#000000", "labelLimit": 300}},
  "stroke": {"field": "item", "type": "nominal",
    "scale": {"domain": ["扇風機","洗濯機","ルームクーラー","電子レンジ","電気カーペット","食器洗浄乾燥機","電気こたつ","掃除機","電気釜","温風暖房機","温水洗浄便座"," ","冷蔵庫","電気毛布","カラーテレビ2台目","冷暖房兼用エアコン","衣類乾燥機","  "],
      "range": ["#4A72B8","#30B0E0","#F050A8","#40A040","#30B0E0","#3C6CC0","#F04828","#7890C8","#78C8E8","#70C070","#F080C8","transparent","#5A3A98","#309840","#E8389A","#F8A030","#F03C20","transparent"]},
    "legend": {"title": null, "orient": "none", "legendX": -16.7, "legendY": 318.3, "columns": 3, "gridAlign": "each", "columnPadding": 5, "rowPadding": -0.4, "padding": 5, "fillColor": "#FFFFD6", "strokeColor": "#F2C232", "cornerRadius": 0, "symbolSize": 121, "symbolStrokeWidth": 1.2, "symbolOffset": 5, "labelOffset": 17, "labelFontSize": 11.5, "labelColor": "#000000", "labelLimit": 300}}
 }}
],
"resolve": {"scale": {"stroke": "independent", "fill": "independent", "shape": "independent", "strokeDash": "independent"}}
}
